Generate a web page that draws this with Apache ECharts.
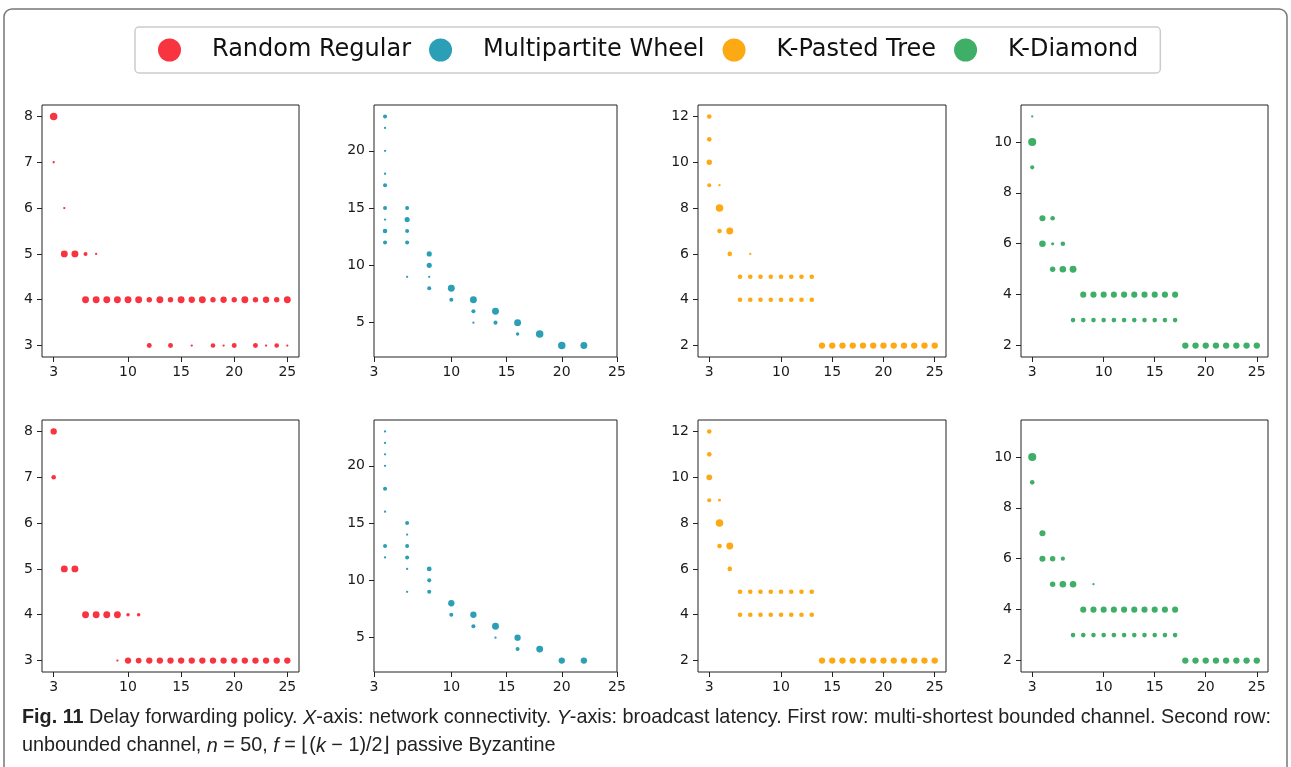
<!DOCTYPE html>
<html>
<head>
<meta charset="utf-8">
<script src="https://cdn.jsdelivr.net/npm/echarts@6/dist/echarts.min.js"></script>
<style>
  html, body { margin: 0; padding: 0; background: #fff; }
  #main { width: 1291px; height: 767px; }
</style>
</head>
<body>
<div id="main"></div>
<script>
// legend names / colours
const seriesNames = ['Random Regular', 'Multipartite Wheel', 'K-Pasted Tree', 'K-Diamond']
const seriesColors = ['#f7343f', '#2b9fb5', '#fca914', '#3fae66']

// each point: [connectivity, latency, marker diameter]
// first row: multi-shortest bounded channel
const rrBounded = [
  [3, 8, 6.5], [3, 7, 2], [4, 6, 2], [4, 5, 6], [5, 5, 6], [6, 5, 3.5], [7, 5, 2],
  [6, 4, 6], [7, 4, 6], [8, 4, 6], [9, 4, 6], [10, 4, 6], [11, 4, 6], [12, 4, 4.7],
  [13, 4, 6], [14, 4, 4.7], [15, 4, 6], [16, 4, 5.5], [17, 4, 6], [18, 4, 4.7],
  [19, 4, 5.5], [20, 4, 4.7], [21, 4, 6], [22, 4, 4.7], [23, 4, 5.5], [24, 4, 4.7], [25, 4, 6],
  [12, 3, 4.3], [14, 3, 4.3], [16, 3, 2], [18, 3, 4], [19, 3, 2], [20, 3, 4.3],
  [22, 3, 4.3], [23, 3, 2], [24, 3, 4], [25, 3, 2]
]
const mwBounded = [
  [4, 23, 3.5], [4, 22, 2], [4, 20, 2], [4, 18, 2], [4, 17, 3.5], [4, 15, 3.5],
  [4, 14, 2], [4, 13, 4], [4, 12, 3.5],
  [6, 15, 3.5], [6, 14, 4.5], [6, 13, 3.5], [6, 12, 3.5], [6, 9, 2],
  [8, 11, 4.5], [8, 10, 4.5], [8, 9, 2], [8, 8, 3.5],
  [10, 8, 6], [10, 7, 3.5],
  [12, 7, 6], [12, 6, 3.5], [12, 5, 2],
  [14, 6, 6], [14, 5, 3.5],
  [16, 5, 6], [16, 4, 3],
  [18, 4, 6.5], [20, 3, 6.5], [22, 3, 6]
]
const kptBounded = [
  [3, 12, 4], [3, 11, 4], [3, 10, 4.7], [3, 9, 3.5],
  [4, 9, 2], [4, 8, 6.5], [4, 7, 4], [5, 7, 6], [5, 6, 4], [7, 6, 2],
  [6, 5, 4], [7, 5, 4], [8, 5, 4], [9, 5, 4], [10, 5, 4], [11, 5, 4], [12, 5, 4], [13, 5, 4],
  [6, 4, 4], [7, 4, 4], [8, 4, 4], [9, 4, 4], [10, 4, 4], [11, 4, 4], [12, 4, 4], [13, 4, 4],
  [14, 2, 5.5], [15, 2, 5.5], [16, 2, 5.5], [17, 2, 5.5], [18, 2, 5.5], [19, 2, 5.5],
  [20, 2, 5.5], [21, 2, 5.5], [22, 2, 5.5], [23, 2, 5.5], [24, 2, 5.5], [25, 2, 5.5]
]
const kdBounded = [
  [3, 11, 2], [3, 10, 7], [3, 9, 3.5],
  [4, 7, 5.3], [4, 6, 5.7], [5, 7, 4], [5, 6, 2.7], [5, 5, 4.7],
  [6, 6, 4], [6, 5, 5.7], [7, 5, 6],
  [8, 4, 5.3], [9, 4, 5.3], [10, 4, 5.3], [11, 4, 5.3], [12, 4, 5.3],
  [13, 4, 5.3], [14, 4, 5.3], [15, 4, 5.3], [16, 4, 5.3], [17, 4, 5.3],
  [7, 3, 4], [8, 3, 4], [9, 3, 4], [10, 3, 4], [11, 3, 4], [12, 3, 4],
  [13, 3, 4], [14, 3, 4], [15, 3, 4], [16, 3, 4], [17, 3, 4],
  [18, 2, 5.5], [19, 2, 5.5], [20, 2, 5.5], [21, 2, 5.5], [22, 2, 5.5],
  [23, 2, 5.5], [24, 2, 5.5], [25, 2, 5.5]
]

// second row: unbounded channel
const rrUnbounded = [
  [3, 8, 5.5], [3, 7, 4], [4, 5, 6], [5, 5, 6],
  [6, 4, 6], [7, 4, 6], [8, 4, 6], [9, 4, 6], [10, 4, 3], [11, 4, 3],
  [9, 3, 2], [10, 3, 5.5], [11, 3, 5], [12, 3, 5.5], [13, 3, 5.5], [14, 3, 5.5],
  [15, 3, 5.5], [16, 3, 5.5], [17, 3, 5.5], [18, 3, 5.5], [19, 3, 5.5], [20, 3, 5.5],
  [21, 3, 5.5], [22, 3, 5.5], [23, 3, 5.5], [24, 3, 5.5], [25, 3, 5.5]
]
const mwUnbounded = [
  [4, 23, 2], [4, 22, 2], [4, 21, 2], [4, 20, 2], [4, 18, 3.5], [4, 16, 2],
  [4, 13, 3.5], [4, 12, 2],
  [6, 15, 3.5], [6, 14, 2], [6, 13, 3.5], [6, 12, 3.5], [6, 11, 2], [6, 9, 2],
  [8, 11, 4.2], [8, 10, 3.5], [8, 9, 3.5],
  [10, 8, 5.5], [10, 7, 3.5],
  [12, 7, 5.5], [12, 6, 3.5],
  [14, 6, 6], [14, 5, 2],
  [16, 5, 5.5], [16, 4, 3.5],
  [18, 4, 6], [20, 3, 5.5], [22, 3, 5.5]
]
const kptUnbounded = [
  [3, 12, 4], [3, 11, 4], [3, 10, 5], [3, 9, 3.5],
  [4, 9, 2.5], [4, 8, 6.5], [4, 7, 4], [5, 7, 6], [5, 6, 4],
  [6, 5, 4], [7, 5, 4], [8, 5, 4], [9, 5, 4], [10, 5, 4], [11, 5, 4], [12, 5, 4], [13, 5, 4],
  [6, 4, 4], [7, 4, 4], [8, 4, 4], [9, 4, 4], [10, 4, 4], [11, 4, 4], [12, 4, 4], [13, 4, 4],
  [14, 2, 5.5], [15, 2, 5.5], [16, 2, 5.5], [17, 2, 5.5], [18, 2, 5.5], [19, 2, 5.5],
  [20, 2, 5.5], [21, 2, 5.5], [22, 2, 5.5], [23, 2, 5.5], [24, 2, 5.5], [25, 2, 5.5]
]
const kdUnbounded = [
  [3, 10, 7], [3, 9, 4],
  [4, 7, 5.3], [4, 6, 5.3], [5, 6, 4.7], [5, 5, 4.7],
  [6, 6, 3.7], [6, 5, 5.7], [7, 5, 5.7], [9, 5, 2],
  [8, 4, 5.3], [9, 4, 5.3], [10, 4, 5.3], [11, 4, 5.3], [12, 4, 5.3],
  [13, 4, 5.3], [14, 4, 5.3], [15, 4, 5.3], [16, 4, 5.3], [17, 4, 5.3],
  [7, 3, 4], [8, 3, 4], [9, 3, 4], [10, 3, 4], [11, 3, 4], [12, 3, 4],
  [13, 3, 4], [14, 3, 4], [15, 3, 4], [16, 3, 4], [17, 3, 4],
  [18, 2, 5.5], [19, 2, 5.5], [20, 2, 5.5], [21, 2, 5.5], [22, 2, 5.5],
  [23, 2, 5.5], [24, 2, 5.5], [25, 2, 5.5]
]

// tick labels
const xTicks = [3, 10, 15, 20, 25]
const yTicks = [
  [3, 4, 5, 6, 7, 8],
  [5, 10, 15, 20],
  [2, 4, 6, 8, 10, 12],
  [2, 4, 6, 8, 10]
]

const panels = [
  [rrBounded, mwBounded, kptBounded, kdBounded],
  [rrUnbounded, mwUnbounded, kptUnbounded, kdUnbounded]
]

// axis ranges (matplotlib-like 5% margins; MW x axis pinned to 3..25)
const xRange = [[1.9, 26.1], [3, 25], [1.9, 26.1], [1.9, 26.1]]
const yRange = [[2.75, 8.25], [2, 24], [1.5, 12.5], [1.55, 11.45]]

// layout
const gridLeft = [42, 374, 698, 1021]
const gridWidth = [257, 243, 248, 247]
const gridTop = [105, 420]
const gridHeight = 252
const markerScale = 1.15

const grids = []
const xAxes = []
const yAxes = []
const series = []
const labelStyle = { fontFamily: 'DejaVu Sans', fontSize: 14, color: '#1a1a1a' }

for (let r = 0; r < 2; r++) {
  for (let c = 0; c < 4; c++) {
    const idx = r * 4 + c
    grids.push({
      left: gridLeft[c], top: gridTop[r], width: gridWidth[c], height: gridHeight,
      show: true, borderColor: '#222', borderWidth: 1, backgroundColor: '#fff'
    })
    xAxes.push({
      type: 'value', gridIndex: idx, min: xRange[c][0], max: xRange[c][1],
      axisLine: { show: false },
      axisTick: { show: true, length: 5, customValues: xTicks, lineStyle: { color: '#222' } },
      axisLabel: Object.assign({ customValues: xTicks, margin: 8, showMinLabel: true, showMaxLabel: true }, labelStyle),
      splitLine: { show: false }
    })
    yAxes.push({
      type: 'value', gridIndex: idx, min: yRange[c][0], max: yRange[c][1],
      axisLine: { show: false },
      axisTick: { show: true, length: 5, customValues: yTicks[c], lineStyle: { color: '#222' } },
      axisLabel: Object.assign({ customValues: yTicks[c], margin: 9 }, labelStyle),
      splitLine: { show: false }
    })
    series.push({
      name: seriesNames[c],
      type: 'scatter',
      xAxisIndex: idx,
      yAxisIndex: idx,
      data: panels[r][c],
      symbol: 'circle',
      symbolSize: function (d) { return d[2] * markerScale },
      itemStyle: { color: seriesColors[c], opacity: 1 },
      silent: true
    })
  }
}

const caption = '{b|Fig. 11} Delay forwarding policy. {i|X}-axis: network connectivity. {i|Y}-axis: broadcast latency. ' +
  'First row: multi-shortest bounded channel. Second row:\n' +
  'unbounded channel, {i|n} = 50, {i|f} = \u230A({i|k} \u2212 1)/2\u230B passive Byzantine'

const capSize = 19.8

const option = {
  animation: false,
  backgroundColor: '#fff',
  legend: {
    data: seriesNames,
    left: 135,
    top: 27,
    icon: 'circle',
    itemWidth: 23,
    itemHeight: 23,
    itemGap: 18,
    padding: [11, 22, 11, 23],
    borderColor: '#cccccc',
    borderWidth: 1.5,
    borderRadius: 4,
    selectedMode: false,
    textStyle: { fontFamily: 'DejaVu Sans', fontSize: 24, color: '#111', padding: [2, 0, 0, 26] }
  },
  grid: grids,
  xAxis: xAxes,
  yAxis: yAxes,
  series: series,
  graphic: [
    {
      type: 'rect',
      shape: { x: 4, y: 9, width: 1283, height: 780, r: 8 },
      style: { fill: 'none', stroke: '#777', lineWidth: 1.5 },
      z: -10,
      silent: true
    },
    {
      type: 'text',
      left: 22,
      top: 704,
      style: {
        text: caption,
        fontFamily: 'Liberation Sans',
        fontSize: capSize,
        lineHeight: 28,
        fill: '#222',
        rich: {
          b: { fontFamily: 'Liberation Sans', fontSize: capSize, fontWeight: 'bold', fill: '#222', lineHeight: 28 },
          i: { fontFamily: 'Liberation Sans', fontSize: capSize, fontStyle: 'italic', fill: '#222', lineHeight: 28 }
        }
      }
    }
  ]
}

const chart = echarts.init(document.getElementById('main'), null, { renderer: 'canvas' })
chart.setOption(option)
</script>
</body>
</html>
